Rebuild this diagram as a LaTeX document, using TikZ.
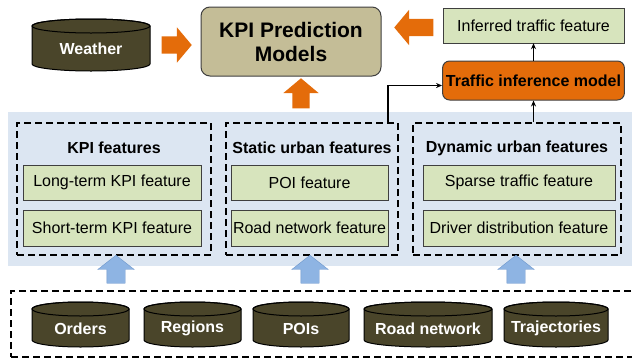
\documentclass[tikz,border=0pt]{standalone}
\usepackage{fontspec}
\setmainfont{Liberation Sans}
\usetikzlibrary{arrows.meta,positioning,shapes.geometric,shapes.arrows,calc}
\definecolor{kpdb}{HTML}{4A452A}
\definecolor{kptan}{HTML}{C4BD97}
\definecolor{kpgreen}{HTML}{D7E4BD}
\definecolor{kporange}{HTML}{E46C0A}
\definecolor{kpband}{HTML}{DCE6F2}
\definecolor{kpblue}{HTML}{8EB4E3}
\definecolor{kpblueline}{HTML}{6C96CB}
\definecolor{kpline}{HTML}{3F3F3F}

% database drum: name, x, y, width, height, label
\newcommand{\dbcyl}[6]{%
  \coordinate (#1-c) at (#2,#3);
  \filldraw[dbshape] ([xshift=-#4*0.5pt, yshift=#5*0.5pt-7pt]#1-c)
    -- ([xshift=-#4*0.5pt, yshift=-#5*0.5pt+7pt]#1-c)
    arc[start angle=180, end angle=360, x radius=#4*0.5pt, y radius=7pt]
    -- ([xshift=#4*0.5pt, yshift=#5*0.5pt-7pt]#1-c)
    arc[start angle=0, end angle=180, x radius=#4*0.5pt, y radius=7pt] -- cycle;
  \draw[dbshape, fill=none] ([yshift=#5*0.5pt-7pt]#1-c) ellipse[x radius=#4*0.5pt, y radius=7pt];
  \node[dbtext] (#1) at ([yshift=-4pt]#1-c) {#6};}

\begin{document}
\begin{tikzpicture}[x=1pt, y=-1pt,
  dbshape/.style={draw=black, fill=kpdb, line width=1pt},
  dbtext/.style={text=white, font=\fontsize{16}{19}\selectfont\bfseries, inner sep=1pt},
  featbox/.style={rectangle, draw=kpline, fill=kpgreen, minimum height=35pt,
               font=\fontsize{16}{19}\selectfont, inner sep=0pt},
  groupbox/.style={rectangle, draw=black, dash pattern=on 7pt off 4pt, line width=1.6pt,
               inner sep=0pt},
  grouptitle/.style={font=\fontsize{16}{19}\selectfont\bfseries},
  orangearrow/.style={single arrow, draw=none, fill=kporange, minimum height=30pt,
               inner sep=8.5pt, single arrow head extend=9pt, single arrow tip angle=100},
  bluearrow/.style={single arrow, draw=kpblueline, fill=kpblue, minimum height=28pt,
               inner sep=9pt, single arrow head extend=9pt, single arrow tip angle=104},
  conn/.style={-{Stealth[length=6pt,width=5pt]}, line width=1.6pt, draw=black}
]
  \useasboundingbox (0,0) rectangle (632,362);
  \clip (0,0) rectangle (632,362);

  % top row
  \dbcyl{weather}{91}{45}{118}{52}{Weather}
  \node[rectangle, rounded corners=9pt, draw=kpline, fill=kptan, line width=1pt,
        minimum width=180pt, minimum height=69pt, align=center,
        font=\fontsize{21}{24}\selectfont\bfseries] (kpim) at (291,41.5) {KPI Prediction\\Models};
  \node[featbox, minimum width=181pt] (inferred) at (533.5,25.5) {Inferred traffic feature};
  \node[rectangle, rounded corners=7pt, draw=kpline, fill=kporange, line width=1pt,
        minimum width=181pt, minimum height=39pt,
        font=\fontsize{16}{19}\selectfont\bfseries] (tim) at (533.5,80.5) {Traffic inference model};

  \node[orangearrow, anchor=tip] (a1) at (192,45) {};
  \node[orangearrow, rotate=180, minimum height=39pt, anchor=tip] (a2) at (394,27.5) {};
  \node[orangearrow, rotate=90, anchor=tip] (a3) at (301,78) {};

  % feature band
  \fill[kpband] (8,112) rectangle (640,266);
  \node[groupbox, minimum width=194pt, minimum height=132pt] (kpif) at (114,189) {};
  \node[groupbox, minimum width=172pt, minimum height=132pt] (static) at (312,189) {};
  \node[groupbox, minimum width=208pt, minimum height=132pt] (dynamic) at (517,189) {};

  \node[grouptitle] (t1) at (114,148) {KPI features};
  \node[grouptitle] (t2) at (312,148) {Static urban features};
  \node[grouptitle] (t3) at (517,148) {Dynamic urban features};

  \node[featbox, minimum width=178pt] (f1) at (112,182.5) {Long-term KPI feature};
  \node[featbox, minimum width=178pt, minimum height=36pt] (f2) at (112,228) {Short-term KPI feature};
  \node[featbox, minimum width=157pt] (f3) at (309.5,182.5) {POI feature};
  \node[featbox, minimum width=157pt, minimum height=36pt] (f4) at (309.5,228) {Road network feature};
  \node[featbox, minimum width=192pt] (f5) at (519,182.5) {Sparse traffic feature};
  \node[featbox, minimum width=192pt, minimum height=36pt] (f6) at (519,228) {Driver distribution feature};

  \draw[conn] ([xshift=-11pt]static.north east) |- ([yshift=-5pt]tim.west);
  \draw[conn] (tim.south |- dynamic.north) -- (tim.south);
  \draw[conn] (tim.north) -- (inferred.south);

  % raw data
  \node[groupbox, minimum width=640pt, minimum height=66pt] (raw) at (331,324) {};
  \dbcyl{orders}{80.5}{324.5}{97}{45}{Orders}
  \dbcyl{regions}{192.5}{324.5}{97}{45}{Regions}
  \dbcyl{pois}{301}{324.5}{96}{45}{POIs}
  \dbcyl{road}{428}{324.5}{128}{45}{Road network}
  \dbcyl{traj}{556}{324.5}{104}{45}{Trajectories}

  \node[bluearrow, rotate=90, anchor=tip] (b1) at (116,255) {};
  \node[bluearrow, rotate=90, anchor=tip] (b2) at (310,255) {};
  \node[bluearrow, rotate=90, anchor=tip] (b3) at (516,255) {};
\end{tikzpicture}
\end{document}
